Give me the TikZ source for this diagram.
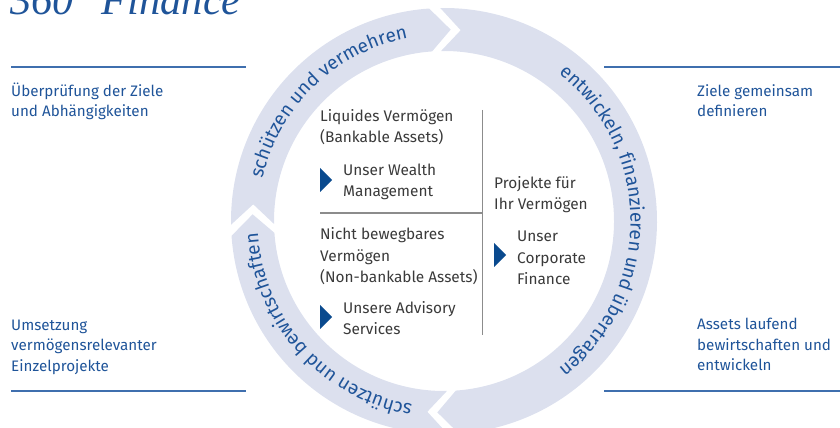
\documentclass[tikz,border=0pt]{standalone}
\usepackage{fontspec}
\setmainfont{Fira Sans}
\newfontfamily\titlefont{Liberation Serif}
\usetikzlibrary{calc,decorations.text}

\definecolor{hvblue}{HTML}{1F5499}
\definecolor{ringfill}{HTML}{DCE0EE}
\definecolor{darktext}{HTML}{3A3A3A}
\definecolor{rulegray}{HTML}{8C8C8C}
\definecolor{tipblue}{HTML}{0A4A8E}
\definecolor{ruleblue}{HTML}{3F6FAE}

% base anchor of a multi-line node = baseline of its last line
\tikzset{
  outertext/.style={anchor=base west,inner sep=0pt,align=left,text=hvblue,
    font=\fontsize{15.2}{20.5}\selectfont},
  innertext/.style={anchor=base west,inner sep=0pt,align=left,text=darktext,
    font=\fontsize{15.4}{21.5}\selectfont},
  bluerule/.style={ruleblue,line width=1.4pt},
  grayrule/.style={rulegray,line width=1.1pt},
  ringtext/.style={decorate,decoration={text along path,text align=center,
    text color=hvblue,text={|\fontsize{19}{21}\selectfont|#1}}}
}

\begin{document}
\begin{tikzpicture}[x=1pt,y=1pt]
    \useasboundingbox (0,0) rectangle (840,428);
    \clip (0,0) rectangle (840,428);

    \node[anchor=base west,inner sep=0pt,text=hvblue,font=\titlefont\itshape\fontsize{42.5}{42.5}\selectfont] (titel) at (10,413) {360° Finance};

    % ring of three arrows
    \coordinate (c) at (444,207);
    \foreach \a/\b in {180/90, 90/-90, 270/180} {
        \fill[ringfill] ($(c)+(\a+1:213)$) arc[start angle=\a+1, end angle=\b+4, radius=213]
            -- ($(c)+(\b-2:191.5)$) -- ($(c)+(\b+4:170)$)
            arc[start angle=\b+4, end angle=\a+1, radius=170]
            -- ($(c)+(\a-5:191.5)$) -- cycle;
    }
    \path[ringtext={schützen und vermehren}] ($(c)+(178:186.5)$) arc[start angle=178, end angle=90, radius=186.5];
    \path[ringtext={entwickeln, finanzieren und übertragen}] ($(c)+(88:186.5)$) arc[start angle=88, end angle=-88, radius=186.5];
    \path[ringtext={schützen und bewirtschaften}] ($(c)+(266:186.5)$) arc[start angle=266, end angle=178, radius=186.5];

    % outer texts
    \draw[bluerule] (11,361) -- (246,361);
    \draw[bluerule] (604,361) -- (840,361);
    \draw[bluerule] (11,37) -- (246,37);
    \draw[bluerule] (604,37) -- (840,37);
    \node[outertext] (pruefung) at (11,311) {Überprüfung der Ziele\\und Abhängigkeiten};
    \node[outertext] (ziele) at (697,311) {Ziele gemeinsam\\definieren};
    \node[outertext] (umsetzung) at (11,56.5) {Umsetzung\\vermögensrelevanter\\Einzelprojekte};
    \node[outertext] (assets) at (697,57) {Assets laufend\\bewirtschaften und\\entwickeln};

    % inner table
    \draw[grayrule] (320,215) -- (482.5,215);
    \draw[grayrule] (482.5,318) -- (482.5,93);
    \node[innertext] (liquide) at (320,285) {Liquides Vermögen\\(Bankable Assets)};
    \node[innertext] (wealth) at (343,231.3) {Unser Wealth\\Management};
    \node[innertext] (nicht) at (320,145) {Nicht bewegbares\\Vermögen\\(Non-bankable Assets)};
    \node[innertext] (advisory) at (343,93) {Unsere Advisory\\Services};
    \node[innertext] (projekte) at (494,218) {Projekte für\\Ihr Vermögen};
    \node[innertext] (corporate) at (517,143) {Unser\\Corporate\\Finance};
    \foreach \x/\y in {320/260, 320/123, 494/185}
        \fill[tipblue] (\x,\y) -- (\x+12,\y-12) -- (\x,\y-24) -- cycle;
\end{tikzpicture}
\end{document}
